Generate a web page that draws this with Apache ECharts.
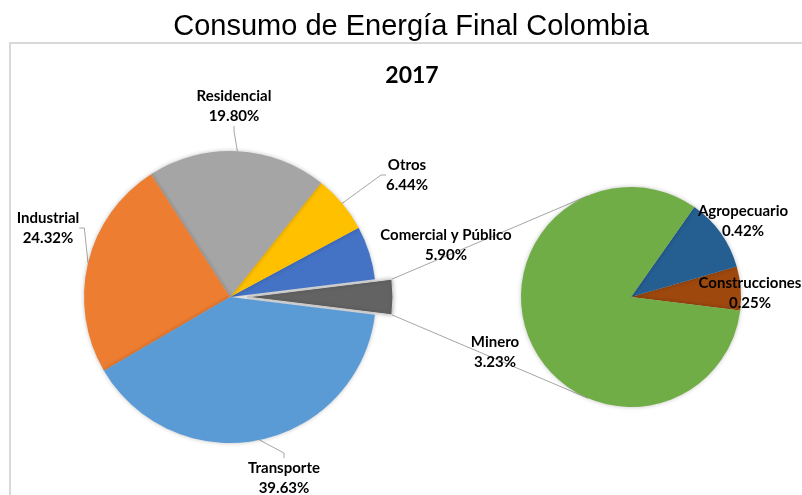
<!DOCTYPE html>
<html>
<head>
<meta charset="utf-8">
<script src="https://cdn.jsdelivr.net/npm/echarts@6/dist/echarts.min.js"></script>
<style>html,body{margin:0;padding:0;background:#fff;}#c{width:802px;height:495px;}</style>
</head>
<body>
<div id="c"></div>
<script>
const chartTitle = 'Consumo de Energía Final Colombia';
const yearLabel = '2017';
const mainNames = ['Comercial y Público', 'Otros', 'Residencial', 'Industrial', 'Transporte'];
const mainValues = [5.90, 6.44, 19.80, 24.32, 39.63];
const subNames = ['Construcciones', 'Agropecuario', 'Minero'];
const subValues = [0.25, 0.42, 3.23];

const mainColors = ['#4472C4', '#FFC000', '#A5A5A5', '#ED7D31', '#5B9BD5'];
const otherColor = '#636363';
const subColors = ['#9E480E', '#255E91', '#70AD47'];

const MAIN_C = [230, 297], MAIN_R = 146, EXPLODE = 17;
const SUB_C = [631, 297], SUB_R = 110;

const labelPos = {
  'Residencial': [234, 106],
  'Industrial': [48, 228],
  'Otros': [407, 175],
  'Comercial y Público': [446, 245],
  'Transporte': [284, 478],
  'Minero': [495, 352],
  'Agropecuario': [743, 221],
  'Construcciones': [750, 293]
};
const withLine = {'Residencial': 1, 'Industrial': 1, 'Otros': 1, 'Transporte': 1};

const otherValue = subValues.reduce((a, b) => a + b, 0);
const mainTotal = otherValue + mainValues.reduce((a, b) => a + b, 0);
const otherSpan = otherValue / mainTotal * 360;

const labelFont = {fontFamily: 'Lato', fontWeight: 'bold', fontSize: 15, color: '#000', lineHeight: 20, align: 'center'};
const fmt = p => p.name + '\n' + p.value.toFixed(2) + '%';

const mainData = [{
  name: 'Otro', value: +otherValue.toFixed(2), selected: true,
  itemStyle: {color: otherColor, borderColor: '#d9d9d9', borderWidth: 1},
  label: {show: false}, labelLine: {show: false}
}].concat(mainNames.map((n, i) => ({
  name: n, value: mainValues[i], itemStyle: {color: mainColors[i]},
  labelLine: {show: !!withLine[n]}
})));

const subData = subNames.map((n, i) => ({
  name: n, value: subValues[i], itemStyle: {color: subColors[i]},
  labelLine: {show: !!withLine[n]}
}));

const seriesNames = [['Otro'].concat(mainNames), subNames];
function layoutFn(params) {
  const name = seriesNames[params.seriesIndex][params.dataIndex];
  const p = labelPos[name];
  if (!p) return {};
  return {x: p[0], y: p[1], align: 'center', verticalAlign: 'middle'};
}

const chart = echarts.init(document.getElementById('c'), null, {renderer: 'canvas'});

const a = otherSpan / 2 * Math.PI / 180;
const ox = MAIN_C[0] + EXPLODE;
const topP = [ox + MAIN_R * Math.cos(a), MAIN_C[1] - MAIN_R * Math.sin(a)];
const botP = [ox + MAIN_R * Math.cos(a), MAIN_C[1] + MAIN_R * Math.sin(a)];
function tangent(pt, upper) {
  const dx = pt[0] - SUB_C[0], dy = -(pt[1] - SUB_C[1]);
  const d = Math.hypot(dx, dy);
  const base = Math.atan2(dy, dx);
  const off = Math.acos(SUB_R / d);
  const ang = upper ? base - off : base + off;
  return [SUB_C[0] + SUB_R * Math.cos(ang), SUB_C[1] - SUB_R * Math.sin(ang)];
}
const topQ = tangent(topP, true);
const botQ = tangent(botP, false);

chart.setOption({
  animation: false,
  backgroundColor: '#fff',
  graphic: [
    {type: 'rect', z: -10, shape: {x: 10, y: 43, width: 900, height: 600},
     style: {fill: null, stroke: '#d9d9d9', lineWidth: 2}},
    {type: 'text', x: 411, y: 26.5, style: {text: chartTitle, font: '29px "Liberation Sans", Arial', fill: '#000', align: 'center', verticalAlign: 'middle'}},
    {type: 'text', x: 412, y: 75.5, style: {text: yearLabel, font: 'bold 23px Lato', fill: '#000', align: 'center', verticalAlign: 'middle'}},
    {type: 'line', z: 1, shape: {x1: topP[0], y1: topP[1], x2: topQ[0], y2: topQ[1]}, style: {stroke: '#a6a6a6', lineWidth: 1}},
    {type: 'line', z: 1, shape: {x1: botP[0], y1: botP[1], x2: botQ[0], y2: botQ[1]}, style: {stroke: '#a6a6a6', lineWidth: 1}}
  ],
  series: [
    {
      type: 'pie', center: MAIN_C, radius: MAIN_R,
      startAngle: -otherSpan / 2, clockwise: false,
      selectedMode: 'single', selectedOffset: EXPLODE,
      avoidLabelOverlap: false,
      itemStyle: {shadowBlur: 4, shadowColor: 'rgba(0,0,0,0.25)'},
      label: Object.assign({show: true, position: 'outside', formatter: fmt}, labelFont),
      labelLine: {show: true, length: 5, length2: 5, lineStyle: {color: '#a6a6a6', width: 1}},
      labelLayout: layoutFn,
      emphasis: {disabled: true},
      data: mainData
    },
    {
      type: 'pie', center: SUB_C, radius: SUB_R,
      startAngle: -7, clockwise: false,
      avoidLabelOverlap: false,
      itemStyle: {shadowBlur: 4, shadowColor: 'rgba(0,0,0,0.25)'},
      label: Object.assign({show: true, position: 'outside', formatter: fmt}, labelFont),
      labelLine: {show: false, lineStyle: {color: '#a6a6a6', width: 1}},
      labelLayout: layoutFn,
      emphasis: {disabled: true},
      data: subData
    }
  ]
});
</script>
</body>
</html>
